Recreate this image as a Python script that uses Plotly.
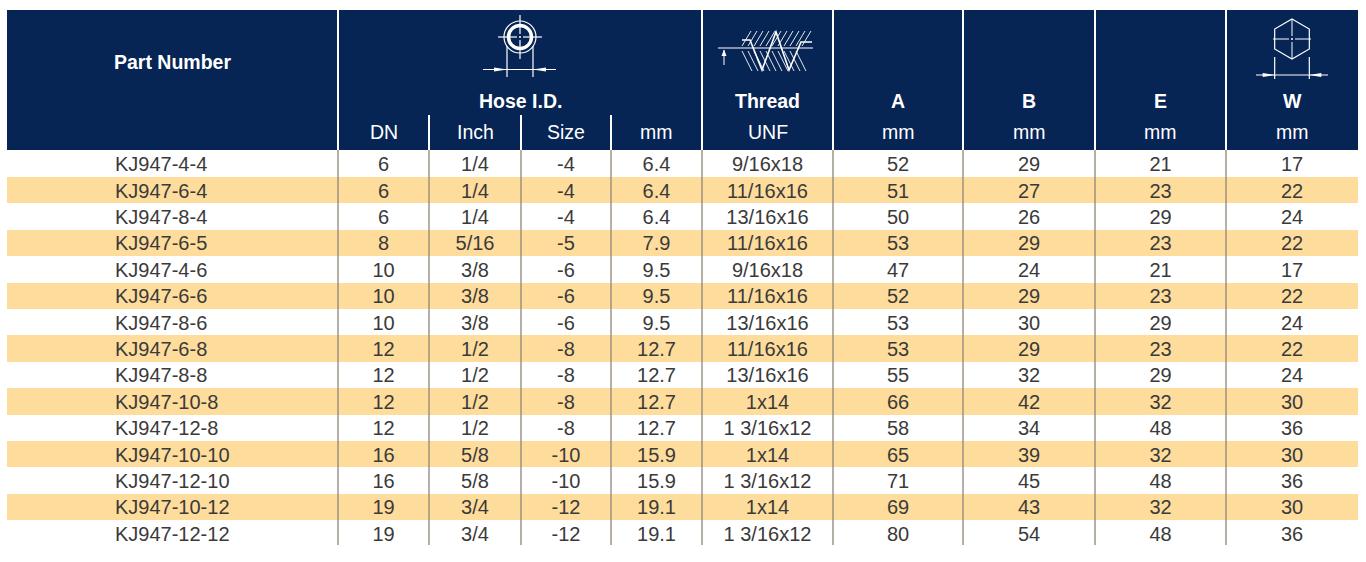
import plotly.graph_objects as go

# Tabellendaten
part_numbers = ["KJ947-4-4", "KJ947-6-4", "KJ947-8-4", "KJ947-6-5", "KJ947-4-6",
                "KJ947-6-6", "KJ947-8-6", "KJ947-6-8", "KJ947-8-8", "KJ947-10-8",
                "KJ947-12-8", "KJ947-10-10", "KJ947-12-10", "KJ947-10-12", "KJ947-12-12"]
dn = [6, 6, 6, 8, 10, 10, 10, 12, 12, 12, 12, 16, 16, 19, 19]
inch = ["1/4", "1/4", "1/4", "5/16", "3/8", "3/8", "3/8", "1/2", "1/2", "1/2",
        "1/2", "5/8", "5/8", "3/4", "3/4"]
size = [-4, -4, -4, -5, -6, -6, -6, -8, -8, -8, -8, -10, -10, -12, -12]
hose_mm = [6.4, 6.4, 6.4, 7.9, 9.5, 9.5, 9.5, 12.7, 12.7, 12.7, 12.7, 15.9, 15.9, 19.1, 19.1]
thread_unf = ["9/16x18", "11/16x16", "13/16x16", "11/16x16", "9/16x18", "11/16x16",
              "13/16x16", "11/16x16", "13/16x16", "1x14", "1 3/16x12", "1x14",
              "1 3/16x12", "1x14", "1 3/16x12"]
dim_a = [52, 51, 50, 53, 47, 52, 53, 53, 55, 66, 58, 65, 71, 69, 80]
dim_b = [29, 27, 26, 29, 24, 29, 30, 29, 32, 42, 34, 39, 45, 43, 54]
dim_e = [21, 23, 29, 23, 21, 23, 29, 23, 29, 32, 48, 32, 48, 32, 48]
dim_w = [17, 22, 24, 22, 17, 22, 24, 22, 24, 30, 36, 30, 36, 30, 36]

header_top = ["Part Number", "Hose I.D.", "Thread", "A", "B", "E", "W"]
header_units = ["DN", "Inch", "Size", "mm", "UNF", "mm", "mm", "mm", "mm"]

# Geometrie (Pixel)
col_edges = [7, 338, 429, 521, 611, 702, 833, 963, 1095, 1226, 1358]
head_top, body_top, row_h = 10, 150.5, 26.4
body_bottom = 545

navy = "#062454"
stripe = "#fedc9c"
txt = "#3a3a3a"
font = "Liberation Sans"

n = len(part_numbers)
row_y = [body_top + row_h * (i + 0.5) for i in range(n)]
text_y = [y + 2.5 for y in row_y]  # Text sitzt optisch etwas tiefer
centers = [(col_edges[i] + col_edges[i + 1]) / 2 for i in range(len(col_edges) - 1)]

fig = go.Figure()

# Streifen (jede zweite Zeile)
odd = [i for i in range(n) if i % 2 == 1]
fig.add_trace(go.Bar(
    y=[row_y[i] for i in odd], x=[col_edges[-1] - col_edges[0]] * len(odd),
    base=col_edges[0], orientation="h", width=row_h,
    marker=dict(color=stripe, line=dict(width=0)), hoverinfo="skip", showlegend=False
))

# Spalteninhalte
columns = [dn, inch, size, hose_mm, thread_unf, dim_a, dim_b, dim_e, dim_w]
fig.add_trace(go.Scatter(
    x=[115] * n, y=text_y, text=part_numbers, mode="text", textposition="middle right",
    textfont=dict(family=font, size=20, color=txt), hoverinfo="skip", showlegend=False
))
for k, col in enumerate(columns):
    fig.add_trace(go.Scatter(
        x=[centers[k + 1]] * n, y=text_y, text=[str(v) for v in col], mode="text",
        textposition="middle center", textfont=dict(family=font, size=20, color=txt),
        hoverinfo="skip", showlegend=False
    ))

shapes = []
# Kopfbereich
shapes.append(dict(type="rect", x0=col_edges[0], x1=col_edges[-1], y0=head_top, y1=150,
                   fillcolor=navy, line=dict(width=0), layer="below"))
# Trennlinien
sub_cols = {429, 521, 611}
for e in col_edges[1:-1]:
    shapes.append(dict(type="line", x0=e, x1=e, y0=115 if e in sub_cols else head_top, y1=150,
                       line=dict(color="white", width=2)))
    shapes.append(dict(type="line", x0=e, x1=e, y0=150, y1=body_bottom,
                       line=dict(color="#8d8478", width=1.3)))

W = dict(color="white", width=1.2)
# Symbol Schlauch-ID (Kreis)
cx, cy = 520, 37
shapes += [
    dict(type="circle", x0=cx - 16, x1=cx + 16, y0=cy - 16, y1=cy + 16, line=W),
    dict(type="circle", x0=cx - 11.5, x1=cx + 11.5, y0=cy - 11.5, y1=cy + 11.5,
         line=dict(color="white", width=3.5)),
    dict(type="line", x0=cx - 22, x1=cx - 3, y0=cy, y1=cy, line=W),
    dict(type="line", x0=cx + 3, x1=cx + 22, y0=cy, y1=cy, line=W),
    dict(type="line", x0=cx, x1=cx, y0=cy - 22, y1=cy - 3, line=W),
    dict(type="line", x0=cx, x1=cx, y0=cy + 3, y1=cy + 22, line=W),
    dict(type="circle", x0=cx - 1, x1=cx + 1, y0=cy - 1, y1=cy + 1, fillcolor="white", line=dict(width=0)),
    dict(type="line", x0=507, x1=507, y0=46, y1=77, line=W),
    dict(type="line", x0=533, x1=533, y0=46, y1=77, line=W),
    dict(type="line", x0=483, x1=556, y0=69.5, y1=69.5, line=dict(color="white", width=1)),
    dict(type="path", path="M 494 67.5 L 507 69.5 L 494 71.5 Z", fillcolor="white", line=dict(width=0)),
    dict(type="path", path="M 546 67.5 L 533 69.5 L 546 71.5 Z", fillcolor="white", line=dict(width=0)),
]

# Symbol Gewinde
T = dict(color="white", width=1)
shapes.append(dict(type="line", x0=718, x1=813, y0=48, y1=48, line=W))
shapes.append(dict(type="line", x0=724, x1=724, y0=50, y1=65, line=T))
shapes.append(dict(type="path", path="M 721.5 56 L 724 49.5 L 726.5 56 Z", fillcolor="white",
                   line=dict(width=0)))
for x0 in range(742, 808, 6):
    shapes.append(dict(type="line", x0=x0, x1=x0 + 9, y0=46, y1=31, line=dict(color="white", width=0.9)))
for x0 in range(742, 798, 6):
    shapes.append(dict(type="line", x0=x0, x1=x0 + 10, y0=51, y1=71, line=dict(color="white", width=0.9)))
shapes.append(dict(type="path", path="M 742 40 L 750 40 L 762 70 L 776 32 L 789 70 L 801 42 L 812 42",
                   line=dict(color="white", width=1.6)))

# Symbol Schlüsselweite (Sechskant)
hx, hy, r = 1292, 39, 20
s = r * 0.866
shapes += [
    dict(type="path", path=f"M {hx} {hy - r} L {hx + s} {hy - r / 2} L {hx + s} {hy + r / 2} "
                           f"L {hx} {hy + r} L {hx - s} {hy + r / 2} L {hx - s} {hy - r / 2} Z", line=W),
    dict(type="line", x0=hx - 19, x1=hx - 3, y0=hy, y1=hy, line=T),
    dict(type="line", x0=hx + 3, x1=hx + 19, y0=hy, y1=hy, line=T),
    dict(type="line", x0=hx, x1=hx, y0=hy - 20, y1=hy - 3, line=T),
    dict(type="line", x0=hx, x1=hx, y0=hy + 3, y1=hy + 20, line=T),
    dict(type="circle", x0=hx - 1, x1=hx + 1, y0=hy - 1, y1=hy + 1, fillcolor="white", line=dict(width=0)),
    dict(type="line", x0=hx - s, x1=hx - s, y0=57, y1=79, line=W),
    dict(type="line", x0=hx + s, x1=hx + s, y0=57, y1=79, line=W),
    dict(type="line", x0=1256, x1=1328, y0=75, y1=75, line=dict(color="white", width=1)),
    dict(type="path", path=f"M {hx - s - 12} 73 L {hx - s} 75 L {hx - s - 12} 77 Z", fillcolor="white",
         line=dict(width=0)),
    dict(type="path", path=f"M {hx + s + 12} 73 L {hx + s} 75 L {hx + s + 12} 77 Z", fillcolor="white",
         line=dict(width=0)),
]

# Kopfbeschriftungen
top_x = [centers[0], (col_edges[1] + col_edges[5]) / 2] + centers[5:]
top_y = [62] + [101] * (len(header_top) - 1)
annotations = []
for label, x, y in zip(header_top, top_x, top_y):
    annotations.append(dict(text=f"<b>{label}</b>", x=x, y=y, xref="x", yref="y", showarrow=False,
                            font=dict(family=font, size=19.5, color="white")))
for label, x in zip(header_units, centers[1:]):
    annotations.append(dict(text=label, x=x, y=132, xref="x", yref="y", showarrow=False,
                            font=dict(family=font, size=19.5, color="white")))

fig.update_layout(
    width=1366, height=562,
    margin=dict(l=0, r=0, t=0, b=0),
    paper_bgcolor="white", plot_bgcolor="white",
    xaxis=dict(range=[0, 1366], visible=False, fixedrange=True),
    yaxis=dict(range=[562, 0], visible=False, fixedrange=True),
    shapes=shapes, annotations=annotations,
    bargap=0, showlegend=False
)

fig.write_html("out.html", config={"displayModeBar": False},
               post_script="document.body.style.margin='0';")
